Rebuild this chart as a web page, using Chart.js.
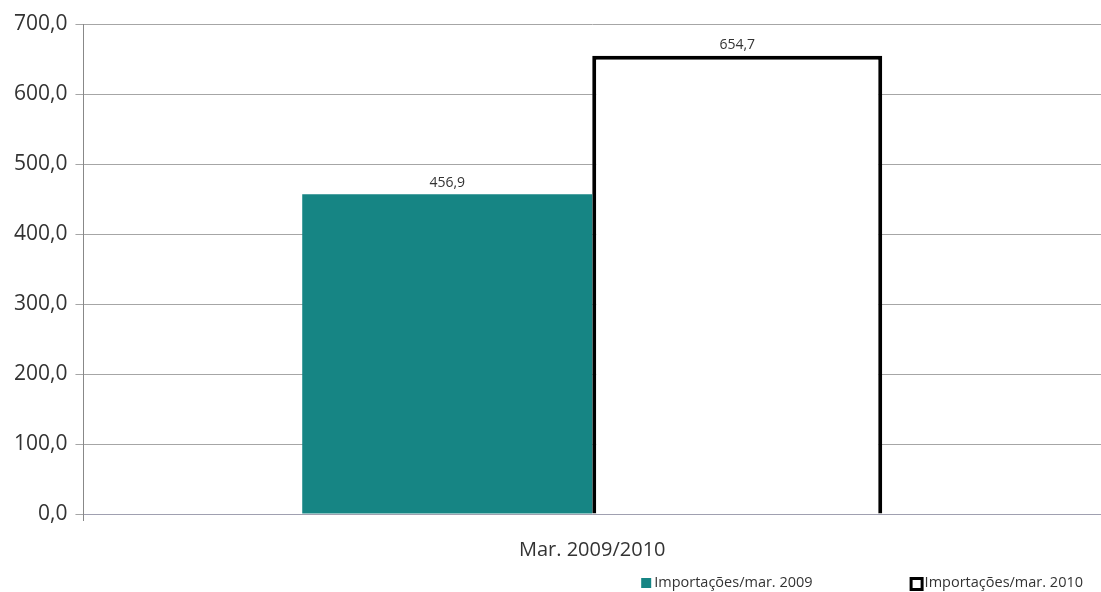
<!DOCTYPE html>
<html>
<head>
<meta charset="utf-8">
<script src="https://cdn.jsdelivr.net/npm/chart.js@4"></script>
<style>
  html, body { margin: 0; padding: 0; background: #fff; }
  #wrap { width: 1101px; height: 592px; }
</style>
</head>
<body>
<div id="wrap"><canvas id="imp-chart" width="1101" height="592"></canvas></div>
<script>
// chart data
const categories = ['Mar. 2009/2010'];
const seriesNames = ['Importações/mar. 2009', 'Importações/mar. 2010'];
const imports2009 = [456.9];
const imports2010 = [654.7];
const yTicks = [0, 100, 200, 300, 400, 500, 600, 700];

const fontFamily = '"Open Sans", "Noto Sans", sans-serif';

function fmt(v, digits) {
    return v.toFixed(digits).replace('.', ',');
}

// value labels above each bar
const valueLabels = {
    id: 'valueLabels',
    afterDatasetsDraw(chart) {
        const ctx = chart.ctx;
        ctx.save();
        ctx.font = '14px ' + fontFamily;
        ctx.fillStyle = '#333';
        ctx.textAlign = 'center';
        ctx.textBaseline = 'bottom';
        chart.data.datasets.forEach((ds, i) => {
            const meta = chart.getDatasetMeta(i);
            meta.data.forEach((bar, j) => {
                ctx.fillText(fmt(ds.data[j], 1), bar.x, bar.y - 4);
            });
        });
        ctx.restore();
    }
};

// legend drawn along the bottom right, items spaced wide apart
const bottomLegend = {
    id: 'bottomLegend',
    afterDraw(chart) {
        const ctx = chart.ctx;
        const sets = chart.data.datasets;
        ctx.save();
        ctx.font = '14.5px ' + fontFamily;
        ctx.textBaseline = 'middle';
        const y = chart.height - 9;
        const box = 12;
        const gap = 3;
        const itemGap = 97;
        let x = chart.width - 18;
        // walk right to left
        for (let i = sets.length - 1; i >= 0; i--) {
            const ds = sets[i];
            const w = ctx.measureText(ds.label).width;
            const tx = x - w;
            const bx = tx - gap - box;
            ctx.fillStyle = '#333';
            ctx.textAlign = 'left';
            ctx.fillText(ds.label, tx, y);
            if (ds.borderWidth) {
                ctx.fillStyle = ds.borderColor;
                ctx.fillRect(bx, y - box / 2, box + 2, box + 2);
                ctx.fillStyle = ds.backgroundColor;
                ctx.fillRect(bx + 3, y - box / 2 + 3, box - 4, box - 4);
            } else {
                ctx.fillStyle = ds.backgroundColor;
                ctx.fillRect(bx + 2, y - box / 2 + 1, box - 2, box - 2);
            }
            x = bx - itemGap;
        }
        ctx.restore();
    }
};

const data = {
    labels: categories,
    datasets: [
        {
            label: seriesNames[0],
            data: imports2009,
            backgroundColor: '#168584',
            borderWidth: 0
        },
        {
            label: seriesNames[1],
            data: imports2010,
            backgroundColor: '#ffffff',
            borderColor: '#000000',
            borderWidth: 4
        }
    ]
};

const config = {
    type: 'bar',
    data: data,
    options: {
        responsive: false,
        animation: false,
        layout: { padding: { top: 24, right: -10, left: 6, bottom: 13 } },
        datasets: {
            bar: { categoryPercentage: 0.57, barPercentage: 1.0 }
        },
        plugins: {
            tooltip: { enabled: false },
            legend: { display: false }
        },
        scales: {
            x: {
                grid: {
                    display: true,
                    drawOnChartArea: false,
                    offset: true,
                    tickLength: 7,
                    color: '#888'
                },
                border: { color: '#a0a0b0' },
                ticks: {
                    color: '#333',
                    padding: 17,
                    font: { family: fontFamily, size: 20 }
                }
            },
            y: {
                min: 0,
                max: 700,
                afterBuildTicks: (axis) => {
                    axis.ticks = yTicks.map(v => ({ value: v }));
                },
                grid: {
                    color: '#a6a6a6',
                    tickLength: 8
                },
                border: { color: '#888' },
                ticks: {
                    color: '#333',
                    padding: 8,
                    font: { family: fontFamily, size: 21 },
                    callback: (v) => fmt(v, 1)
                }
            }
        }
    },
    plugins: [valueLabels, bottomLegend]
};

const impChart = new Chart(document.getElementById('imp-chart'), config);
</script>
</body>
</html>
